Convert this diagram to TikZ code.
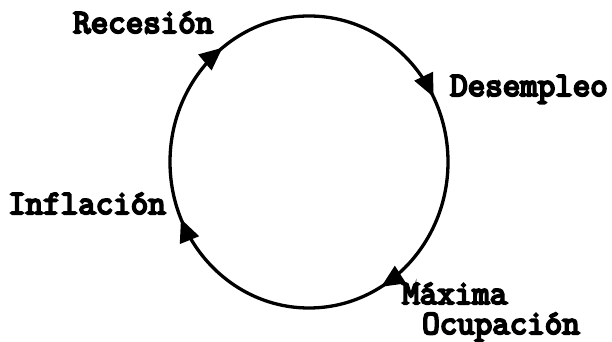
\documentclass[tikz,border=0pt]{standalone}
\usepackage{fontspec}
\newfontfamily\tw{Latin Modern Mono}[FakeBold=6]
\usetikzlibrary{decorations.markings,arrows.meta}
\tikzset{
  lbl/.style={anchor=base west,inner sep=0pt,font=\tw\fontsize{34}{34}\selectfont},
  cyctip/.tip={Triangle[length=23pt,width=20pt]},
}
\begin{document}
\begin{tikzpicture}[x=1pt,y=1pt]
\useasboundingbox (0,0) rectangle (612,342);
\coordinate (c) at (309,180);
\draw[line width=3.3pt,
  postaction={decorate},
  decoration={markings,
    mark=at position 0.145 with {\arrow{cyctip}},
    mark=at position 0.425 with {\arrow{cyctip}},
    mark=at position 0.665 with {\arrow{cyctip}},
    mark=at position 0.935 with {\arrow{cyctip}}}]
  (c) ++(180:139 and 146) arc[start angle=180,end angle=-180,x radius=139,y radius=146];
\node[lbl] (rec) at (73,309) {Recesión};
\node[lbl] (des) at (450,246) {Desempleo};
\node[lbl] (inf) at (8,128) {Inflación};
\node[lbl] (max) at (402,38) {Máxima};
\node[lbl] (ocu) at (422,8) {Ocupación};
\end{tikzpicture}
\end{document}
